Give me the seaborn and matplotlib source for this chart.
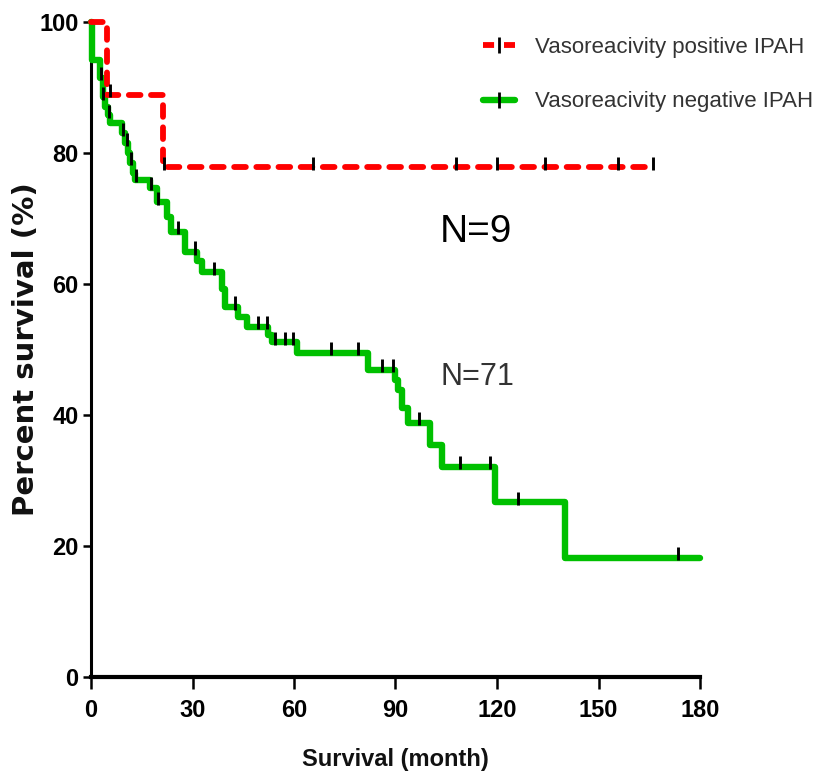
import numpy as np
import pandas as pd
import matplotlib
matplotlib.use("Agg")
import matplotlib.pyplot as plt
from matplotlib.lines import Line2D
import seaborn as sns

# -----------------------------
# data
# -----------------------------
# vasoreactivity positive IPAH (N=9)
pos_time = [0, 4.7, 21.3]
pos_surv = [100, 88.9, 77.8]
pos_end = 166.5
pos_censor = [5.5, 21.6, 65.6, 108.0, 120.0, 134.3, 155.7, 166.2]

# vasoreactivity negative IPAH (N=71)
neg_time = [0, 0.4, 2.7, 3.4, 4.2, 5.0, 5.6, 9.2, 10.0, 10.8, 11.6, 12.4, 13.0,
            17.4, 19.5, 22.5, 23.6, 27.8, 31.3, 32.8, 38.6, 39.5, 43.5, 46.0,
            52.3, 53.5, 60.9, 81.9, 89.9, 90.8, 92.0, 93.7, 100.2, 103.8,
            119.4, 140.1]
neg_surv = [100, 94.2, 91.5, 88.5, 87.0, 85.8, 84.6, 83.0, 81.5, 80.0, 78.5,
            77.0, 75.9, 74.7, 72.5, 70.3, 68.0, 64.9, 63.5, 61.8, 59.2, 56.5,
            55.0, 53.5, 52.2, 51.1, 49.5, 46.9, 45.3, 43.8, 41.1, 38.8, 35.4,
            32.1, 26.7, 18.2]
neg_end = 180
neg_censor = [2.9, 3.6, 5.2, 9.4, 10.5, 11.8, 13.2, 17.6, 19.8, 25.7, 30.7,
              36.4, 42.6, 49.4, 52.1, 54.4, 57.3, 59.7, 70.9, 78.9, 86.0, 89.3,
              97.0, 109.0, 118.0, 126.2, 173.5]

x_ticks = [0, 30, 60, 90, 120, 150, 180]
y_ticks = [0, 20, 40, 60, 80, 100]

RED = "#ff0000"
GREEN = "#00c000"
RED_LW = 4.2
GREEN_LW = 4.6


def km_frame(times, surv, end):
    t = list(times) + [end]
    s = list(surv) + [surv[-1]]
    return pd.DataFrame({"time": t, "surv": s})


def surv_at(times, surv, when):
    idx = np.searchsorted(np.asarray(times), np.asarray(when), side="right") - 1
    return np.asarray(surv)[idx]


sns.set_theme(style="white")
plt.rcParams["font.family"] = ["Liberation Sans", "DejaVu Sans"]

fig = plt.figure(figsize=(8.33, 7.8), dpi=100)
ax = fig.add_axes([91 / 833, 1 - 677 / 780, 609 / 833, 655 / 780])

pos_df = km_frame(pos_time, pos_surv, pos_end)
neg_df = km_frame(neg_time, neg_surv, neg_end)

sns.lineplot(data=neg_df, x="time", y="surv", ax=ax, estimator=None, sort=False,
             drawstyle="steps-post", color=GREEN, lw=GREEN_LW, clip_on=False, zorder=3)
sns.lineplot(data=pos_df, x="time", y="surv", ax=ax, estimator=None, sort=False,
             drawstyle="steps-post", color=RED, lw=RED_LW, clip_on=False, zorder=4,
             linestyle=(0, (2.0, 1.8)), dash_capstyle="round")

# censor ticks
for ct, times, surv in [(neg_censor, neg_time, neg_surv), (pos_censor, pos_time, pos_surv)]:
    sv = surv_at(times, surv, ct)
    ax.vlines(ct, sv - 0.4, sv + 1.6, colors="black", lw=2.1, zorder=5, clip_on=False)

ax.set_xlim(0, 180)
ax.set_ylim(0, 100)
ax.set_xticks(x_ticks)
ax.set_yticks(y_ticks)
ax.set_xticklabels([str(v) for v in x_ticks], fontweight="bold", fontsize=17, color="black")
ax.set_yticklabels([str(v) for v in y_ticks], fontweight="bold", fontsize=17, color="black")
ax.tick_params(axis="x", direction="out", length=8.5, width=1.8, color="black",
               pad=7, bottom=True)
ax.tick_params(axis="y", direction="out", length=6, width=1.8, color="black",
               pad=3, left=True)

for side in ["top", "right"]:
    ax.spines[side].set_visible(False)
ax.spines["left"].set_linewidth(2.2)
ax.spines["bottom"].set_linewidth(3.0)
for side in ["left", "bottom"]:
    ax.spines[side].set_color("black")

ax.set_xlabel("Survival (month)", fontweight="bold", fontsize=17, labelpad=19, color="#111111")
ax.set_ylabel("Percent survival (%)", family=["DejaVu Sans"], fontweight="bold",
              fontsize=21, color="#111111")
ax.yaxis.set_label_coords((40 - 91) / 609, 0.5)

ax.text(103.2, 66.4, "N=9", fontsize=28, color="black", ha="left", va="baseline")
ax.text(103.2, 44.6, "N=71", fontsize=22, color="#333333", ha="left", va="baseline")

handles = [
    Line2D([], [], color=RED, lw=RED_LW, linestyle=(0, (1.9, 1.7)), marker="|",
           markersize=11, markeredgecolor="black", markeredgewidth=2.0),
    Line2D([], [], color=GREEN, lw=GREEN_LW, marker="|",
           markersize=11, markeredgecolor="black", markeredgewidth=2.0),
]
labels = ["Vasoreacivity positive IPAH", "Vasoreacivity negative IPAH"]
leg = fig.legend(handles, labels, loc="upper left", bbox_to_anchor=(483 / 833, 1 - 37 / 780),
                 frameon=False, numpoints=1, handlelength=1.45, handletextpad=0.9,
                 labelspacing=1.5, borderpad=0, borderaxespad=0, prop={"size": 16})
for txt in leg.get_texts():
    txt.set_color("#333333")

fig.savefig("out.png", dpi=100)
